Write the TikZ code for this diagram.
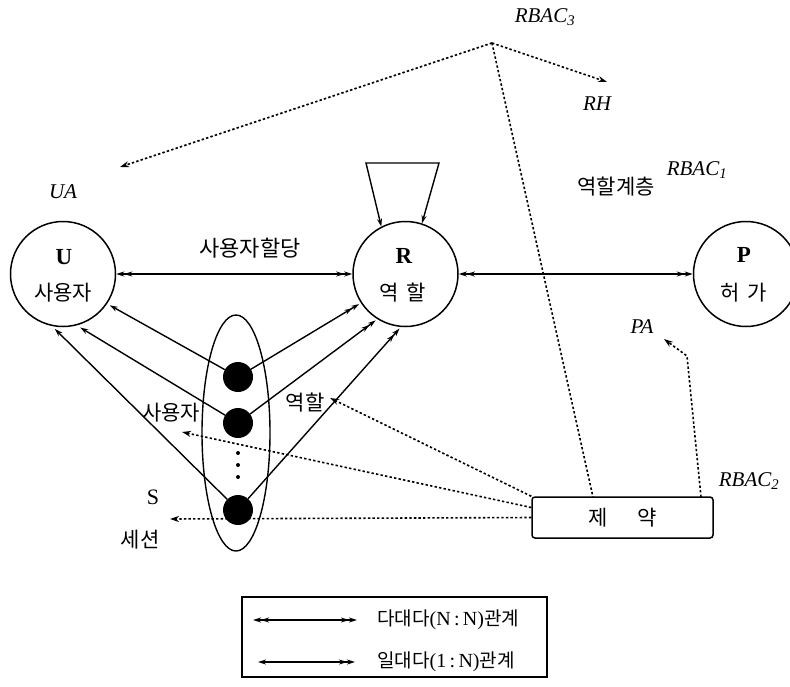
\documentclass[tikz,border=0pt]{standalone}
\usepackage{fontspec}
\setmainfont{Liberation Serif}
\newfontfamily\kr{Noto Sans CJK KR}
\usetikzlibrary{arrows.meta,shapes.geometric,calc}
\begin{document}
\begin{tikzpicture}[x=1pt,y=-1pt,
  >={Stealth[length=8pt,width=5pt]},
  solidln/.style={line width=1.4pt},
  circ/.style={circle,draw,line width=1.5pt,minimum size=105pt,inner sep=0pt},
  dotln/.style={line width=1.6pt,dash pattern=on 2.4pt off 2.2pt},
  dotarr/.style={dotln,-{Stealth[length=9pt,width=6pt]}},
  sdot/.style={circle,fill=black,minimum size=30pt,inner sep=0pt},
  tinydot/.style={circle,fill=black,minimum size=4pt,inner sep=0pt},
  kor/.style={font=\kr\fontsize{21}{25}\selectfont,inner sep=1pt},
  lat/.style={font=\fontsize{21}{25}\selectfont\itshape,inner sep=1pt},
  bigl/.style={font=\fontsize{23}{27}\selectfont\bfseries,inner sep=1pt},
  legt/.style={font=\fontsize{20}{24}\selectfont,inner sep=1pt,anchor=west},
]
\useasboundingbox (0,0) rectangle (790,686);

% main circles
\node[circ] (U) at (63,274) {};
\node[circ] (R) at (405.5,274) {};
\node[circ] (P) at (746,274) {};
\node[bigl] (Ut) at (64,257) {U};
\node[kor] (Uk) at (63,293) {사용자};
\node[bigl] (Rt) at (404,256) {R};
\node[kor] (Rk) at (403,293) {역\hspace{8pt}할};
\node[bigl] (Pt) at (744,255) {P};
\node[kor] (Pk) at (744,293) {허\hspace{8pt}가};

% session
\node[ellipse,draw,line width=1.4pt,minimum width=68pt,minimum height=236pt,inner sep=0pt] (S) at (236,433) {};
\node[sdot] (d1) at (238,377) {};
\node[sdot] (d2) at (238,423) {};
\node[sdot] (d3) at (238,510) {};
\node[tinydot] (e1) at (238,453) {};
\node[tinydot] (e2) at (238,465) {};
\node[tinydot] (e3) at (238,477) {};

% constraint box
\node[draw,rounded corners=3pt,line width=1.5pt,minimum width=181pt,minimum height=41pt,inner sep=0pt,font=\kr\fontsize{21}{25}\selectfont] (c) at (622.5,517.5) {제\hspace{30pt}약};

% labels
\node[kor,font=\kr\fontsize{22}{26}\selectfont] (lUR) at (250,248) {사용자할당};
\node[kor] (lRo) at (305,403) {역할};
\node[kor] (lUs) at (171,413) {사용자};
\node[font=\fontsize{22}{26}\selectfont,inner sep=1pt] (lS) at (153,497) {S};
\node[kor] (lSe) at (140,540) {세션};
\node[kor] (lRH) at (616,187) {역할계층};
\node[lat] (rb1) at (697,170) {RBAC\textsubscript{1}};
\node[lat] (rb2) at (749,481) {RBAC\textsubscript{2}};
\node[lat] (rb3) at (545,17) {RBAC\textsubscript{3}};
\node[lat] (rh) at (597,104) {RH};
\node[lat] (ua) at (63,192) {UA};
\node[lat] (pa) at (642,327) {PA};

% solid relations
\draw[<<->>,solidln] (U) -- (R);
\draw[<<->>,solidln] (R) -- (P);
\coordinate (lpA) at (366,163);
\coordinate (lpB) at (439,163);
\draw[<->,solidln] (R.117) -- (lpA) -- (lpB) -- (R.72);

\draw[->,solidln,shorten >=3pt] (d1) -- (U.-34);
\draw[->,solidln,shorten >=4pt] (d2) -- (U.-75);
\draw[->,solidln,shorten >=4pt] (d3) -- (U.-102);
\draw[->>,solidln,shorten >=2pt] (d1) -- (R.-147);
\draw[->>,solidln,shorten >=2pt] (d2) -- (R.-122);
\draw[->>,solidln,shorten >=2pt] (d3) -- (R.-95);

% dotted relations
\coordinate (apex) at (492,43);
\coordinate (uaT) at (120,167);
\coordinate (rhT) at (607,82);
\coordinate (cA) at (593,497);
\coordinate (cB) at (701,497);
\coordinate (paM) at (687,356);
\coordinate (paT) at (664,339);
\coordinate (roT) at (330,398);
\coordinate (usT) at (182,432);
\coordinate (seT) at (170,519);
\draw[dotarr] (apex) -- (uaT);
\draw[dotarr] (apex) -- (rhT);
\draw[dotln] (apex) -- (cA);
\draw[dotarr] (cB) -- (paM) -- (paT);
\draw[dotarr] (c.north west) -- (roT);
\draw[dotarr] ($(c.west)+(0,-10)$) -- (usT);
\draw[dotarr] (c.west) -- (seT);

% legend
\node[draw,line width=2.2pt,minimum width=305pt,minimum height=80pt,inner sep=0pt] (leg) at (394.5,637) {};
\coordinate (l1a) at (253,620);
\coordinate (l1b) at (357,620);
\coordinate (l2a) at (258,662);
\coordinate (l2b) at (355,662);
\draw[<<->>,solidln] (l1a) -- (l1b);
\draw[<->>,solidln] (l2a) -- (l2b);
\node[legt] (t1) at (376,620) {{\kr\fontsize{19}{22}\selectfont 다대다}(N\,:\,N){\kr\fontsize{19}{22}\selectfont 관계}};
\node[legt] (t2) at (376,662) {{\kr\fontsize{19}{22}\selectfont 일대다}(1\,:\,N){\kr\fontsize{19}{22}\selectfont 관계}};
\end{tikzpicture}
\end{document}
